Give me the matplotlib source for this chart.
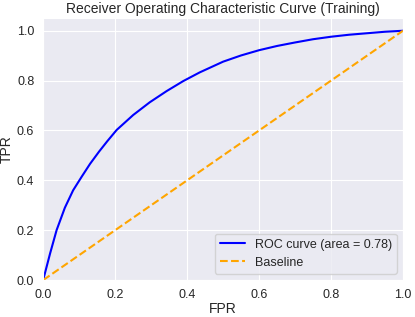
import matplotlib
matplotlib.use("Agg")
import matplotlib.pyplot as plt
import seaborn as sns

# ROC points
fpr = [0.0, 0.002, 0.019, 0.037, 0.06, 0.083, 0.107, 0.13, 0.155, 0.178, 0.204,
       0.25, 0.296, 0.343, 0.389, 0.435, 0.5, 0.55, 0.6, 0.65, 0.7, 0.75, 0.8,
       0.85, 0.9, 0.95, 1.0]
tpr = [0.0, 0.013, 0.107, 0.2, 0.29, 0.36, 0.415, 0.466, 0.515, 0.557, 0.602,
       0.662, 0.713, 0.758, 0.798, 0.833, 0.876, 0.901, 0.922, 0.939, 0.953, 0.966, 0.976,
       0.984, 0.99, 0.996, 1.0]
roc_auc = 0.78
baseline = [0.0, 1.0]

sns.set_style("darkgrid")
plt.rcParams['font.family'] = ['Liberation Sans', 'DejaVu Sans']

fig = plt.figure(figsize=(4.15, 3.17), dpi=100)
ax = fig.add_axes([0.1043, 0.1167, 0.8667, 0.8256])

ax.plot(fpr, tpr, color='blue', lw=1.5, label='ROC curve (area = %0.2f)' % roc_auc)
ax.plot(baseline, baseline, color='orange', lw=1.5, linestyle='--', label='Baseline')

ax.set_xlim(0.0, 1.0)
ax.set_ylim(0.0, 1.05)
ax.tick_params(labelsize=9, colors='#262626', pad=3)
ax.set_xlabel('FPR', fontsize=10, color='#262626', labelpad=1)
ax.set_ylabel('TPR', fontsize=10, color='#262626', labelpad=2)
ax.set_title('Receiver Operating Characteristic Curve (Training)', fontsize=10, color='#262626', pad=4)
ax.legend(loc='lower right', fontsize=9)

fig.savefig('out.png', dpi=100)
